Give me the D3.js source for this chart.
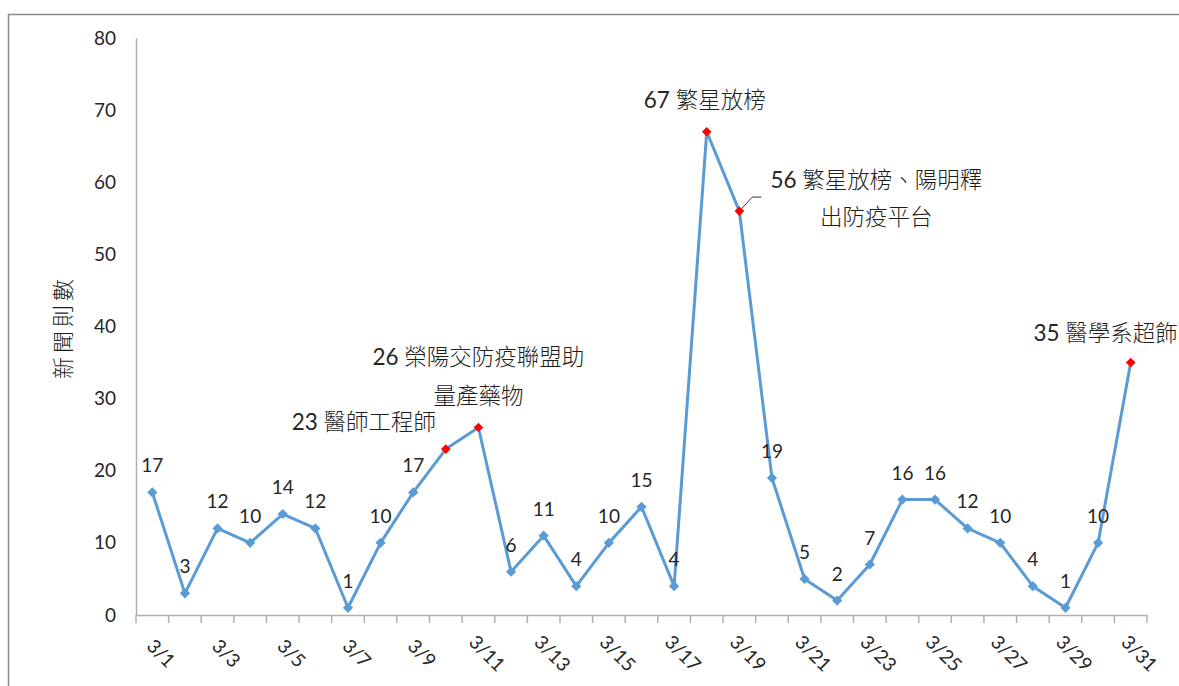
<!DOCTYPE html>
<html>
<head>
<meta charset="utf-8">
<script src="https://cdn.jsdelivr.net/npm/d3@7"></script>
<style>
  body { margin: 0; background: #fff; }
  text { font-family: Lato, "Noto Sans CJK TC", sans-serif; fill: #262626; font-weight: 400; }
  .cjk { font-weight: 300; fill: #1e1e1e; }
  tspan.num { font-weight: 400; fill: #262626; }
</style>
</head>
<body>
<script>
// daily news counts, March
const days = d3.range(1, 32).map(d => `3/${d}`);
const counts = [17, 3, 12, 10, 14, 12, 1, 10, 17, 23, 26, 6, 11, 4, 10, 15, 4, 67, 56, 19, 5, 2, 7, 16, 16, 12, 10, 4, 1, 10, 35];
const yTicks = [0, 10, 20, 30, 40, 50, 60, 70, 80];
const tickLabels = days.filter((d, i) => i % 2 === 0);
// highlighted days and their notes
const noteDays = ["3/10", "3/11", "3/18", "3/19", "3/31"];
const noteLines = [
  ["23 醫師工程師"],
  ["26 榮陽交防疫聯盟助", "量產藥物"],
  ["67 繁星放榜"],
  ["56 繁星放榜、陽明釋", "出防疫平台"],
  ["35 醫學系超飾"]
];

const W = 1179, H = 686;
const svg = d3.select("body").append("svg")
  .attr("width", W)
  .attr("height", H);

// chart frame
svg.append("rect")
  .attr("x", 8.5).attr("y", 14.5)
  .attr("width", 1300).attr("height", 800)
  .attr("fill", "none")
  .attr("stroke", "#8c8c8c")
  .attr("stroke-width", 1.5);

const x = d3.scaleBand().domain(days).range([136, 1147]).padding(0);
const y = d3.scaleLinear().domain([0, 80]).range([615, 38]);
const cx = d => x(d) + x.bandwidth() / 2;

const axisColor = "#b0b0b0";

// y axis
const yAxis = svg.append("g")
  .attr("transform", "translate(136,0)")
  .call(d3.axisLeft(y).tickValues(yTicks).tickSize(0).tickPadding(20));
yAxis.select(".domain").attr("stroke", axisColor).attr("stroke-width", 1.5);
yAxis.selectAll("text").style("font-size", "19px").attr("fill", "#262626");

// x axis: ticks at band edges, labels every other day
const xAxis = svg.append("g")
  .attr("transform", "translate(0,615)")
  .call(d3.axisBottom(x).tickValues([]).tickSizeOuter(0));
xAxis.select(".domain").attr("stroke", axisColor).attr("stroke-width", 1.5);
xAxis.selectAll("line.edge")
  .data(days.concat(["end"]))
  .enter()
  .append("line")
  .attr("class", "edge")
  .attr("x1", (d, i) => i < days.length ? x(d) : x.range()[1])
  .attr("x2", (d, i) => i < days.length ? x(d) : x.range()[1])
  .attr("y1", 0).attr("y2", 8)
  .attr("stroke", axisColor)
  .attr("stroke-width", 1.5);
xAxis.selectAll("text.lbl")
  .data(tickLabels)
  .enter()
  .append("text")
  .attr("class", "lbl")
  .attr("transform", d => `translate(${cx(d) + 4},43) rotate(45)`)
  .style("font-size", "19px")
  .text(d => d);

// y axis title
svg.append("text")
  .attr("class", "cjk")
  .attr("transform", "translate(71,327) rotate(-90)")
  .attr("text-anchor", "middle")
  .style("font-size", "22px")
  .style("letter-spacing", "4px")
  .text("新聞則數");

const data = days.map((d, i) => ({ day: d, value: counts[i], note: noteDays.indexOf(d) }));

// line
svg.append("path")
  .datum(data)
  .attr("fill", "none")
  .attr("stroke", "#5b9bd5")
  .attr("stroke-width", 3)
  .attr("stroke-linejoin", "round")
  .attr("d", d3.line().x(d => cx(d.day)).y(d => y(d.value)));

// leader line for 3/19 note
const p19 = data.find(d => d.day === "3/19");
svg.append("polyline")
  .attr("points", [
    [cx(p19.day), y(p19.value)],
    [cx(p19.day) + 13, y(p19.value) - 14],
    [cx(p19.day) + 22, y(p19.value) - 14]
  ].join(" "))
  .attr("fill", "none")
  .attr("stroke", "#333")
  .attr("stroke-width", 1);

// markers
const diamond = d3.symbol().type(d3.symbolSquare);
svg.selectAll("path.mark")
  .data(data)
  .enter()
  .append("path")
  .attr("class", "mark")
  .attr("d", d => diamond.size(d.note >= 0 ? 46 : 52)())
  .attr("transform", d => `translate(${cx(d.day)},${y(d.value)}) rotate(45)`)
  .attr("fill", d => d.note >= 0 ? "#ff0000" : "#5b9bd5");

// value labels
svg.selectAll("text.val")
  .data(data.filter(d => d.note < 0))
  .enter()
  .append("text")
  .attr("class", "val")
  .attr("x", d => cx(d.day))
  .attr("y", d => y(d.value) - 20)
  .attr("text-anchor", "middle")
  .style("font-size", "19px")
  .text(d => d.value);

// notes (number part in regular weight, text part light)
const noteOffsets = [[-82, -19, 0], [0, -62, 39], [-2, -24, 0], [137, -23, 37], [-25, -22, 0]];
data.filter(d => d.note >= 0).forEach(d => {
  const [dx, dy, gap] = noteOffsets[d.note];
  noteLines[d.note].forEach((line, j) => {
    const t = svg.append("text")
      .attr("class", "cjk")
      .attr("x", cx(d.day) + dx)
      .attr("y", y(d.value) + dy + j * gap)
      .attr("text-anchor", "middle")
      .style("font-size", "22.5px");
    const m = line.match(/^(\d+ )(.*)$/);
    if (m) {
      t.append("tspan").attr("class", "num").text(m[1]);
      t.append("tspan").text(m[2]);
    } else {
      t.text(line);
    }
  });
});
</script>
</body>
</html>
